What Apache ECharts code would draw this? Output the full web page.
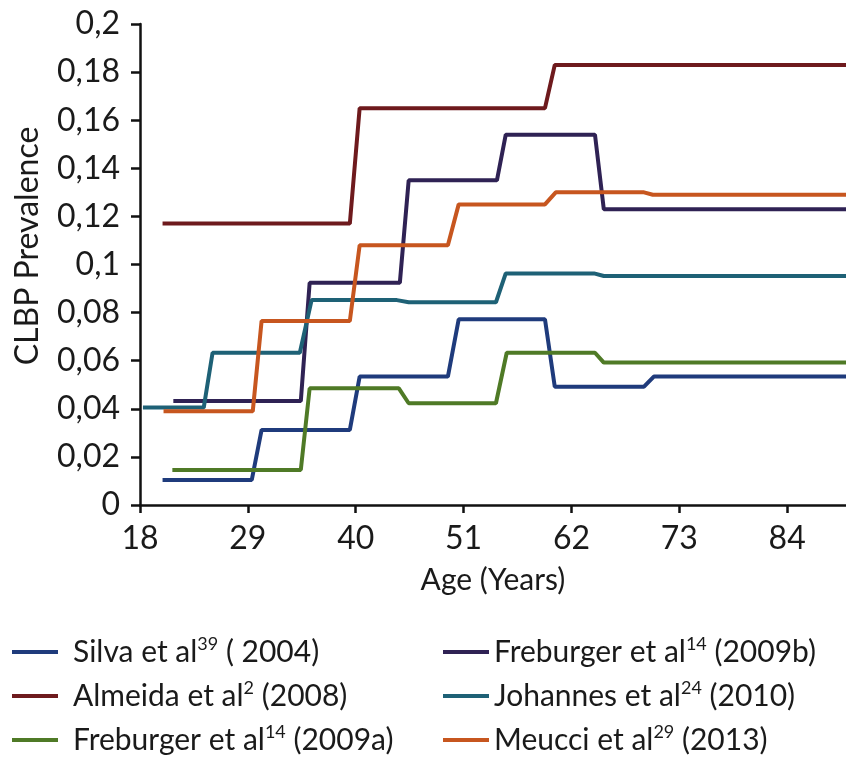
<!DOCTYPE html>
<html>
<head>
<meta charset="utf-8">
<script src="https://cdn.jsdelivr.net/npm/echarts@6/dist/echarts.min.js"></script>
<style>
html,body{margin:0;padding:0;background:#fff;}
#chart{width:846px;height:778px;}
</style>
</head>
<body>
<div id="chart"></div>
<script>
// Tick labels
const xTicks = [18, 29, 40, 51, 62, 73, 84];
// Series data: [age, prevalence]
const silva2004 = [[20.3,0.0104],[29.4,0.0104],[30.4,0.0312],[39.4,0.0312],[40.4,0.0534],[49.4,0.0534],[50.5,0.0772],[59.3,0.0772],[60.3,0.0492],[69.4,0.0492],[70.4,0.0534],[90,0.0534]];
const almeida2008 = [[20.3,0.117],[39.4,0.117],[40.4,0.165],[59.3,0.165],[60.3,0.183],[90,0.183]];
const freburger2009a = [[21.3,0.0146],[34.4,0.0146],[35.3,0.0485],[44.4,0.0485],[45.4,0.0423],[54.3,0.0423],[55.4,0.0633],[64.4,0.0633],[65.3,0.0592],[90,0.0592]];
const freburger2009b = [[21.4,0.0432],[34.4,0.0432],[35.3,0.0924],[44.5,0.0924],[45.4,0.135],[54.4,0.135],[55.3,0.154],[64.4,0.154],[65.3,0.123],[90,0.123]];
const johannes2010 = [[18.3,0.0405],[24.5,0.0405],[25.4,0.0633],[34.3,0.0633],[35.5,0.0852],[44.2,0.0852],[45.4,0.0843],[54.3,0.0843],[55.3,0.0963],[64.3,0.0963],[65.3,0.0952],[90,0.0952]];
const meucci2013 = [[20.4,0.039],[29.5,0.039],[30.4,0.0765],[39.4,0.0765],[40.4,0.108],[49.4,0.108],[50.5,0.125],[59.3,0.125],[60.4,0.130],[69.4,0.130],[70.3,0.129],[90,0.129]];

const seriesDefs = [
  {name:'Silva et al|39| ( 2004)', data: silva2004, color:'#1f3b7c'},
  {name:'Almeida et al|2| (2008)', data: almeida2008, color:'#6e1a1d'},
  {name:'Freburger et al|14| (2009a)', data: freburger2009a, color:'#4f7a26'},
  {name:'Freburger et al|14| (2009b)', data: freburger2009b, color:'#2f2254'},
  {name:'Johannes et al|24| (2010)', data: johannes2010, color:'#1e6176'},
  {name:'Meucci et al|29| (2013)', data: meucci2013, color:'#c7561f'}
];

const TXT = '#1a1a1a';
const FONT = 'Lato';
function legendFmt(pad){
  return function(name){
    const p = name.split('|');
    return '{' + pad + '|' + p[0] + '}{s|' + p[1] + '}{a|' + p[2] + '}';
  };
}
const richStyles = {
  a:{fontFamily:FONT, fontSize:30, color:TXT, lineHeight:34},
  p:{fontFamily:FONT, fontSize:30, color:TXT, lineHeight:34, padding:[0,0,0,10]},
  s:{fontFamily:FONT, fontSize:18, color:TXT, lineHeight:22, verticalAlign:'top'}
};

const chart = echarts.init(document.getElementById('chart'), null, {renderer:'canvas'});
chart.setOption({
  animation:false,
  backgroundColor:'#fff',
  grid:{left:140, right:0, top:24, bottom:273, containLabel:false},
  xAxis:{
    type:'value', min:18, max:90,
    name:'Age (Years)', nameLocation:'middle', nameGap:60,
    nameTextStyle:{fontFamily:FONT, fontSize:30, color:TXT},
    axisLine:{show:true, onZero:false, lineStyle:{color:'#111', width:2.5}},
    axisTick:{show:true, length:8, customValues:xTicks, lineStyle:{color:'#111', width:2.5}},
    axisLabel:{customValues:xTicks, margin:18, fontFamily:FONT, fontSize:32, color:TXT},
    splitLine:{show:false}
  },
  yAxis:{
    type:'value', min:0, max:0.2, interval:0.02,
    axisLine:{show:true, lineStyle:{color:'#111', width:2.5}},
    axisTick:{show:true, length:9, lineStyle:{color:'#111', width:2.5}},
    axisLabel:{margin:20, fontFamily:FONT, fontSize:32, color:TXT,
      formatter:function(v){ return String(+v.toFixed(2)).replace('.', ','); }},
    splitLine:{show:false}
  },
  graphic:[{
    type:'text', x:28, y:246, rotation:Math.PI/2,
    style:{text:'CLBP Prevalence', fontFamily:FONT, fontSize:32, fill:TXT, textAlign:'center', textVerticalAlign:'middle'}
  }],
  legend:[
    {
      orient:'vertical', left:12, top:635, padding:0, itemWidth:46, itemHeight:4, itemGap:12,
      icon:'rect', selectedMode:false,
      data:seriesDefs.slice(0,3).map(s=>s.name),
      formatter:legendFmt('p'),
      textStyle:{rich:richStyles}
    },
    {
      orient:'vertical', left:443, top:635, padding:0, itemWidth:46, itemHeight:4, itemGap:12,
      icon:'rect', selectedMode:false,
      data:seriesDefs.slice(3).map(s=>s.name),
      formatter:legendFmt('a'),
      textStyle:{rich:richStyles}
    }
  ],
  series:seriesDefs.map(s=>({
    name:s.name, type:'line', data:s.data, symbol:'none', color:s.color,
    lineStyle:{width:4, color:s.color}, emphasis:{disabled:true}
  }))
});
</script>
</body>
</html>
